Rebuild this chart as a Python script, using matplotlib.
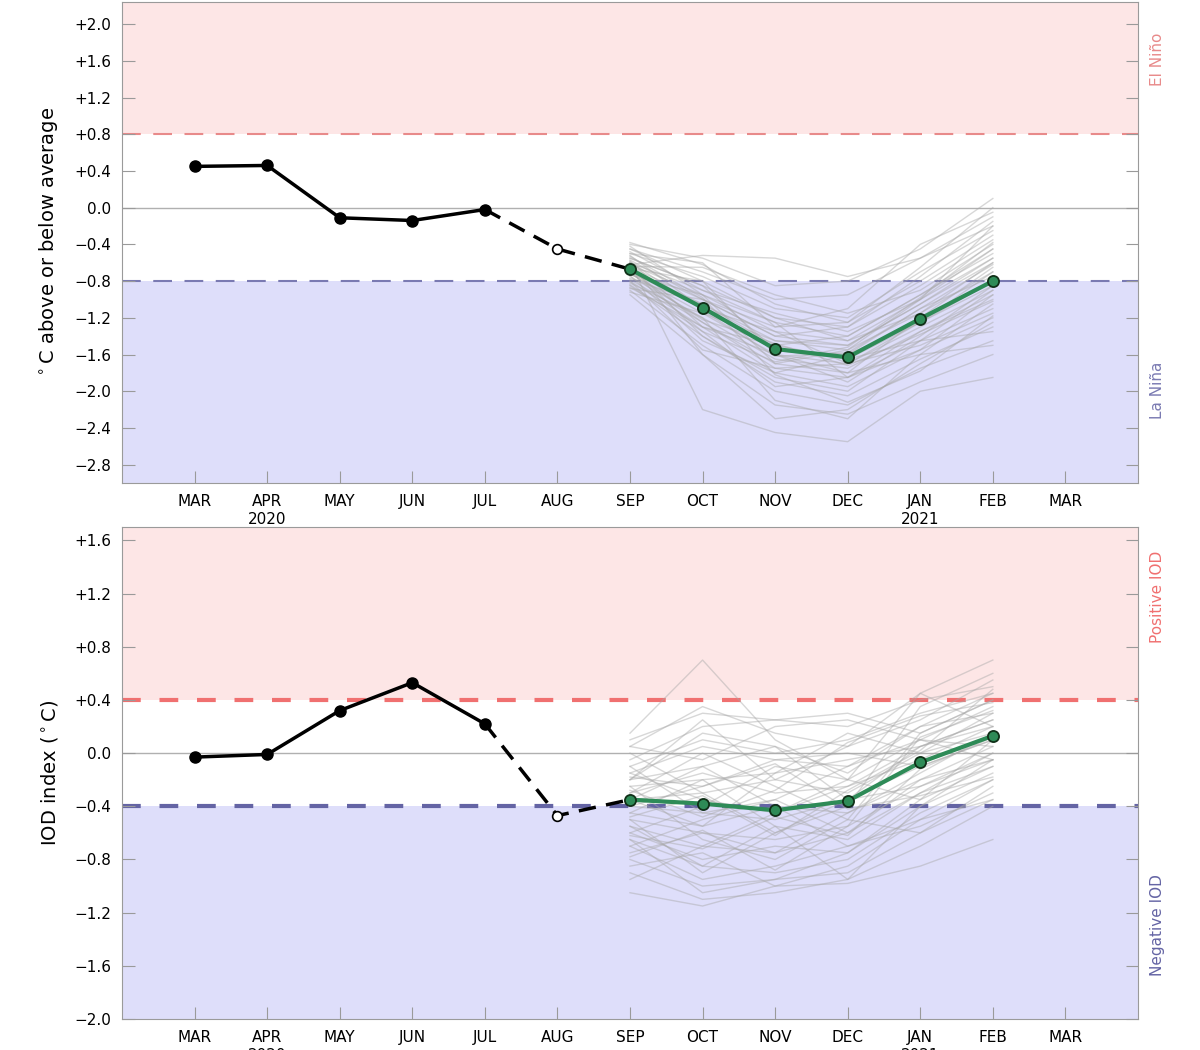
import numpy as np
import matplotlib
matplotlib.use("Agg")
from matplotlib import pyplot as plt

months = ['MAR', 'APR', 'MAY', 'JUN', 'JUL', 'AUG', 'SEP', 'OCT', 'NOV', 'DEC', 'JAN', 'FEB', 'MAR']
years = {'APR': '2020', 'JAN': '2021'}

# observed values MAR..JUL, estimate for AUG
nino_obs = [0.45, 0.46, -0.11, -0.14, -0.02]
nino_aug = -0.45
iod_obs = [-0.03, -0.01, 0.32, 0.53, 0.22]
iod_aug = -0.47

# ensemble mean SEP..FEB
nino_mean = [-0.67, -1.09, -1.54, -1.63, -1.21, -0.80]
iod_mean = [-0.35, -0.38, -0.43, -0.36, -0.07, 0.13]

# ensemble members SEP..FEB
nino_members = [
    [-0.40, -0.55, -0.85, -0.80, -0.45, 0.10],
    [-0.45, -0.70, -1.00, -0.95, -0.55, -0.10],
    [-0.50, -0.75, -1.10, -1.20, -0.70, -0.25],
    [-0.55, -0.85, -1.20, -1.30, -0.85, -0.35],
    [-0.60, -0.90, -1.25, -1.40, -0.95, -0.50],
    [-0.62, -0.95, -1.35, -1.45, -1.00, -0.55],
    [-0.65, -1.00, -1.40, -1.50, -1.05, -0.60],
    [-0.68, -1.05, -1.45, -1.55, -1.15, -0.70],
    [-0.70, -1.10, -1.55, -1.65, -1.25, -0.80],
    [-0.72, -1.15, -1.60, -1.70, -1.30, -0.90],
    [-0.75, -1.20, -1.65, -1.75, -1.35, -1.00],
    [-0.78, -1.25, -1.75, -1.85, -1.45, -1.10],
    [-0.80, -1.30, -1.80, -1.95, -1.55, -1.20],
    [-0.85, -1.40, -1.90, -2.05, -1.65, -1.30],
    [-0.90, -1.50, -2.00, -2.15, -1.75, -1.45],
    [-0.95, -1.60, -2.15, -2.25, -1.90, -1.60],
    [-0.60, -2.20, -2.45, -2.55, -2.00, -1.85],
    [-0.50, -0.60, -1.30, -1.10, -0.40, -0.05],
    [-0.42, -0.95, -1.70, -1.80, -1.20, -0.65],
    [-0.88, -1.00, -1.30, -1.25, -0.80, -0.30],
    [-0.58, -1.30, -1.50, -1.40, -0.95, -0.45],
    [-0.66, -0.80, -1.60, -1.90, -1.40, -0.85],
    [-0.74, -1.45, -1.80, -1.60, -1.10, -0.75],
    [-0.52, -1.10, -1.35, -1.70, -1.50, -1.15],
    [-0.82, -1.20, -2.10, -2.30, -1.60, -1.05],
    [-0.64, -0.65, -0.95, -1.15, -0.90, -0.40],
    [-0.70, -1.35, -1.95, -1.85, -1.35, -0.95],
    [-0.48, -0.90, -1.15, -1.35, -1.00, -0.20],
    [-0.77, -1.05, -1.50, -1.65, -1.45, -1.35],
    [-0.60, -1.60, -2.30, -2.20, -1.70, -1.25],
    [-0.92, -1.15, -1.45, -1.50, -1.05, -0.55],
    [-0.55, -0.85, -1.55, -1.60, -1.25, -0.70],
    [-0.68, -1.25, -1.70, -1.55, -1.00, -0.45],
    [-0.73, -0.95, -1.25, -1.85, -1.55, -0.95],
    [-0.63, -1.40, -1.85, -2.00, -1.45, -0.90],
    [-0.57, -1.00, -1.40, -1.30, -0.75, -0.15],
    [-0.80, -1.55, -1.75, -1.70, -1.25, -0.85],
    [-0.45, -0.80, -1.20, -1.45, -1.15, -0.60],
    [-0.87, -1.30, -1.60, -1.80, -1.60, -1.50],
    [-0.62, -0.52, -0.55, -0.75, -0.55, -0.20],
    [-0.38, -0.62, -1.05, -1.25, -0.65, 0.00],
    [-0.59, -1.12, -1.62, -1.58, -1.10, -0.62],
    [-0.71, -1.22, -1.48, -1.72, -1.38, -1.02],
    [-0.84, -1.35, -1.68, -1.52, -0.98, -0.38],
    [-0.53, -0.98, -1.82, -2.12, -1.78, -1.18],
]

iod_members = [
    [0.15, 0.70, 0.10, -0.20, 0.45, 0.70],
    [0.10, 0.30, 0.25, 0.20, 0.40, 0.50],
    [0.05, 0.35, 0.15, 0.05, 0.25, 0.55],
    [-0.05, 0.20, 0.25, 0.30, 0.15, 0.40],
    [-0.10, 0.10, 0.00, 0.10, 0.30, 0.45],
    [-0.15, 0.05, -0.05, -0.10, 0.10, 0.35],
    [-0.20, -0.10, 0.05, -0.15, 0.20, 0.30],
    [-0.25, -0.20, -0.15, -0.05, 0.05, 0.25],
    [-0.30, -0.15, -0.30, -0.25, -0.05, 0.20],
    [-0.35, -0.30, -0.20, -0.30, 0.00, 0.15],
    [-0.40, -0.45, -0.50, -0.35, -0.10, 0.10],
    [-0.45, -0.55, -0.40, -0.45, -0.20, 0.05],
    [-0.50, -0.60, -0.65, -0.55, -0.25, -0.05],
    [-0.55, -0.70, -0.75, -0.60, -0.30, -0.10],
    [-0.60, -0.80, -0.70, -0.75, -0.40, -0.15],
    [-0.65, -0.85, -0.90, -0.80, -0.45, -0.20],
    [-0.70, -0.95, -0.85, -0.70, -0.55, -0.30],
    [-0.80, -1.00, -0.95, -0.90, -0.60, -0.25],
    [-0.90, -1.10, -1.05, -0.95, -0.70, -0.40],
    [-1.05, -1.15, -1.00, -0.85, -0.50, -0.35],
    [-0.85, -0.75, -1.00, -0.98, -0.85, -0.65],
    [0.00, -0.30, -0.60, -0.40, 0.35, 0.60],
    [-0.20, 0.25, -0.20, 0.05, 0.45, 0.20],
    [-0.35, -0.55, -0.15, 0.15, 0.00, 0.30],
    [-0.15, -0.35, -0.45, -0.20, -0.35, -0.10],
    [-0.60, -0.40, -0.10, -0.20, 0.10, 0.05],
    [-0.45, -0.20, -0.55, -0.65, -0.30, 0.00],
    [-0.25, -0.65, -0.80, -0.50, 0.15, 0.40],
    [-0.70, -0.50, -0.35, -0.60, -0.20, -0.05],
    [0.05, -0.05, 0.20, 0.25, 0.10, -0.05],
    [-0.50, -0.90, -0.60, -0.35, 0.05, 0.25],
    [-0.30, 0.00, -0.25, -0.50, -0.60, -0.35],
    [-0.75, -0.60, -0.75, -0.45, -0.15, 0.15],
    [-0.10, -0.45, -0.35, -0.10, 0.20, 0.45],
    [-0.40, -0.25, -0.05, 0.00, -0.10, 0.10],
    [-0.55, -0.85, -0.55, -0.95, -0.40, -0.05],
    [-0.20, 0.15, 0.05, -0.35, -0.25, 0.00],
    [-0.95, -0.70, -0.45, -0.25, 0.05, 0.20],
    [-0.35, -0.10, -0.40, -0.70, -0.50, -0.20],
    [-0.65, -1.05, -0.95, -0.75, -0.35, 0.10],
    [-0.28, -0.48, -0.28, 0.08, 0.28, 0.38],
    [-0.48, -0.32, -0.62, -0.28, 0.02, 0.48],
    [-0.62, -0.72, -0.48, -0.62, -0.12, 0.12],
    [-0.18, -0.25, -0.08, -0.42, -0.32, -0.18],
    [-0.78, -0.58, -0.88, -0.55, 0.12, 0.32],
]

nino_ticks = [-2.8, -2.4, -2.0, -1.6, -1.2, -0.8, -0.4, 0.0, 0.4, 0.8, 1.2, 1.6, 2.0]
iod_ticks = [-2.0, -1.6, -1.2, -0.8, -0.4, 0.0, 0.4, 0.8, 1.2, 1.6]

PINK = '#fde6e6'
LAV = '#dedefa'
GREEN = '#2e8b57'
SPINE = '#9a9a9a'


def fmt(v):
    if abs(v) < 1e-9:
        return '0.0'
    return ('+%.1f' % v) if v > 0 else '\u2212%.1f' % abs(v)


def draw_panel(ax, obs, aug, mean, members, thresh, ylim, ticks, ylabel,
               labels, label_y, lw_thresh, red, blue, dash):
    x = np.arange(1, len(months) + 1)
    ax.set_xlim(0, 14)
    ax.set_ylim(*ylim)
    ax.axhspan(thresh, ylim[1], color=PINK, lw=0, zorder=0)
    ax.axhspan(ylim[0], -thresh, color=LAV, lw=0, zorder=0)
    ax.axhline(0, color='#b0b0b0', lw=1, zorder=1)
    ax.axhline(thresh, color=red, lw=lw_thresh, dashes=dash, zorder=1)
    ax.axhline(-thresh, color=blue, lw=lw_thresh, dashes=dash, zorder=1)

    fx = x[6:12]
    for m in members:
        ax.plot(fx, m, color='#a8a8a8', lw=1, alpha=0.45, zorder=2)

    ax.plot(x[:5], obs, color='black', lw=2.5, marker='o', ms=8, zorder=5)
    ax.plot([x[4], x[5], x[6]], [obs[-1], aug, mean[0]], color='black', lw=2.5,
            dashes=(5, 3), zorder=4)
    ax.plot(x[5], aug, marker='o', ms=7, mfc='white', mec='black', mew=1.2, zorder=6)
    ax.plot(fx, mean, color=GREEN, lw=3, marker='o', ms=8, mfc=GREEN,
            mec='#103018', mew=1.3, zorder=5)

    ax.set_yticks(ticks)
    ax.set_yticklabels([fmt(t) for t in ticks])
    ax.set_xticks(x)
    ax.set_xticklabels([m + ('\n' + years[m] if m in years and i < 12 else '')
                        for i, m in enumerate(months)])
    ax.tick_params(direction='in', length=9, color=SPINE, labelsize=11,
                   right=True, pad=8)
    for s in ax.spines.values():
        s.set_color(SPINE)
    ax.set_ylabel(ylabel, fontsize=14, labelpad=10)
    ax.text(1.019, label_y[0], labels[0], transform=ax.transAxes, rotation=90,
            color=red, fontsize=11, ha='center', va='center')
    ax.text(1.019, label_y[1], labels[1], transform=ax.transAxes, rotation=90,
            color=blue, fontsize=11, ha='center', va='center')


fig = plt.figure(figsize=(12, 10.5), dpi=100)
ax1 = fig.add_axes([0.1017, 0.54, 0.8466, 0.458])
ax2 = fig.add_axes([0.1017, 0.0295, 0.8466, 0.4685])

draw_panel(ax1, nino_obs, nino_aug, nino_mean, nino_members, 0.8, (-3.0, 2.24),
           nino_ticks, '$^\\circ$C above or below average', ('El Niño', 'La Niña'),
           (0.88, 0.193), 1.5, '#e88a8a', '#7a7ab2', (9, 6))
draw_panel(ax2, iod_obs, iod_aug, iod_mean, iod_members, 0.4, (-2.0, 1.7),
           iod_ticks, 'IOD index ($^\\circ$C)', ('Positive IOD', 'Negative IOD'),
           (0.858, 0.191), 3, '#f07070', '#6464a4', (4.5, 4.5))

fig.savefig('out.png', dpi=100)
